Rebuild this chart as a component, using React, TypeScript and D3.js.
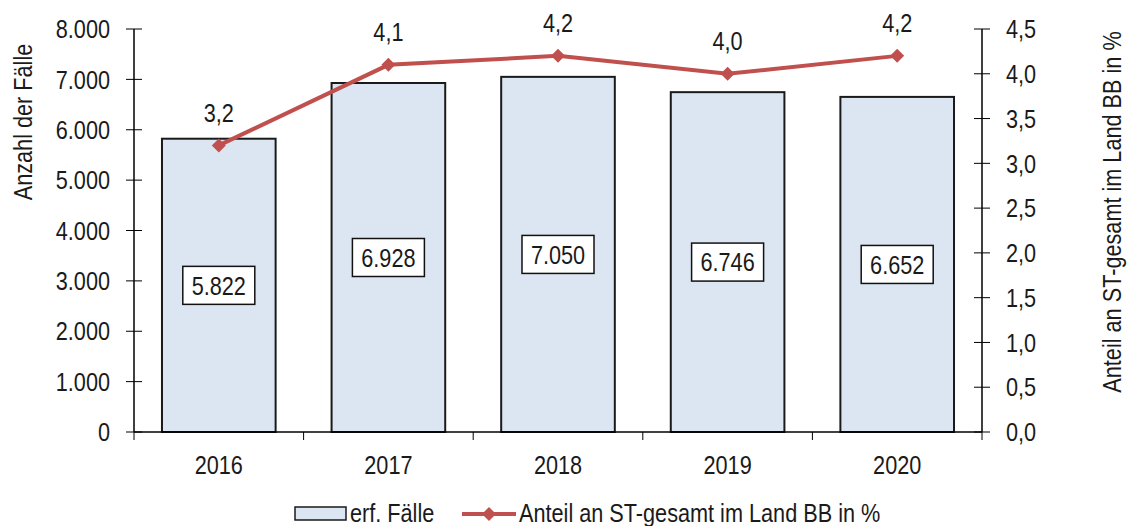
import React from "react";
import * as d3 from "d3";

const years = ["2016", "2017", "2018", "2019", "2020"];
const cases = [5822, 6928, 7050, 6746, 6652];
const shares = [3.2, 4.1, 4.2, 4.0, 4.2];
const leftTicks = [0, 1000, 2000, 3000, 4000, 5000, 6000, 7000, 8000];
const rightTicks = [0, 0.5, 1, 1.5, 2, 2.5, 3, 3.5, 4, 4.5];

const W = 1130;
const H = 526;
const FONT = "'Liberation Sans', Arial, sans-serif";
const FS = 25.5;
const SX = 0.85;

type TP = {
  x: number;
  y: number;
  anchor?: "start" | "middle" | "end";
  rotate?: number;
  size?: number;
  sx?: number;
  dy?: string;
  children: React.ReactNode;
};

function T({ x, y, anchor = "start", rotate = 0, size = FS, sx = SX, dy, children }: TP) {
  return (
    <text
      transform={`translate(${x},${y}) rotate(${rotate}) scale(${sx},1)`}
      textAnchor={anchor}
      fontSize={size}
      dy={dy}
      fill="#1a1a1a"
    >
      {children}
    </text>
  );
}

export default function App() {
  const x = d3.scaleBand<string>().domain(years).range([134, 982]).paddingInner(0.33).paddingOuter(0.165);
  const yL = d3.scaleLinear().domain([0, 8000]).range([432, 29]);
  const yR = d3.scaleLinear().domain([0, 4.5]).range([432, 29]);
  const fmtInt = (v: number) => d3.format(",")(v).replace(/,/g, ".");
  const fmtDec = (v: number) => v.toFixed(1).replace(".", ",");
  const cx = (y: string) => (x(y) as number) + x.bandwidth() / 2;
  const line = d3.line<number>().x((_, i) => cx(years[i])).y((d) => yR(d));
  const step = (982 - 134) / years.length;
  const diamond = (px: number, py: number, r: number) =>
    `M${px},${py - r}L${px + r},${py}L${px},${py + r}L${px - r},${py}Z`;
  const red = "#c0504d";

  return (
    <svg width={W} height={H} style={{ position: "absolute", left: 0, top: 0, background: "#fff" }} fontFamily={FONT}>
      {/* bars */}
      {years.map((y, i) => (
        <rect key={y} x={x(y)} y={yL(cases[i])} width={x.bandwidth()} height={yL(0) - yL(cases[i])}
          fill="#dce6f2" stroke="#1a1a1a" strokeWidth={2} />
      ))}
      {/* left axis */}
      <line x1={134} x2={134} y1={29} y2={432} stroke="#000" strokeWidth={1.5} />
      {leftTicks.map((t) => (
        <g key={t}>
          <line x1={126} x2={142} y1={yL(t)} y2={yL(t)} stroke="#000" strokeWidth={1} />
          <T x={110} y={yL(t)} dy="0.36em" anchor="end">{fmtInt(t)}</T>
        </g>
      ))}
      {/* right axis */}
      <line x1={982} x2={982} y1={29} y2={432} stroke="#000" strokeWidth={1.5} />
      {rightTicks.map((t) => (
        <g key={t}>
          <line x1={974} x2={990} y1={yR(t)} y2={yR(t)} stroke="#000" strokeWidth={1} />
          <T x={1006} y={yR(t)} dy="0.36em">{fmtDec(t)}</T>
        </g>
      ))}
      {/* x axis */}
      <line x1={134} x2={982} y1={432} y2={432} stroke="#000" strokeWidth={1.5} />
      {d3.range(years.length + 1).map((i) => (
        <line key={i} x1={134 + i * step} x2={134 + i * step} y1={432} y2={440} stroke="#000" strokeWidth={1} />
      ))}
      {years.map((y) => (
        <T key={y} x={cx(y)} y={474} anchor="middle">{y}</T>
      ))}
      {/* value boxes */}
      {years.map((y, i) => {
        const my = (yL(cases[i]) + yL(0)) / 2;
        return (
          <g key={y}>
            <rect x={cx(y) - 36} y={my - 19} width={72} height={38} fill="#fff" stroke="#111" strokeWidth={1.5} />
            <T x={cx(y)} y={my} dy="0.36em" anchor="middle">{fmtInt(cases[i])}</T>
          </g>
        );
      })}
      {/* line */}
      <path d={line(shares) as string} fill="none" stroke={red} strokeWidth={4} />
      {shares.map((s, i) => (
        <g key={i}>
          <path d={diamond(cx(years[i]), yR(s), 7)} fill={red} />
          <T x={cx(years[i])} y={yR(s) - 33} dy="0.36em" anchor="middle">{fmtDec(s)}</T>
        </g>
      ))}
      {/* axis titles */}
      <T x={32} y={122} rotate={-90} anchor="middle">Anzahl der Fälle</T>
      <T x={1121} y={212} rotate={-90} anchor="middle">Anteil an ST-gesamt im Land BB in %</T>
      {/* legend */}
      <rect x={295} y={507} width={51} height={13} fill="#dce6f2" stroke="#1a1a1a" strokeWidth={1.5} />
      <T x={350} y={522}>erf. Fälle</T>
      <line x1={462} x2={516} y1={514} y2={514} stroke={red} strokeWidth={4} />
      <path d={diamond(489, 514, 7)} fill={red} />
      <T x={519} y={522}>Anteil an ST-gesamt im Land BB in %</T>
    </svg>
  );
}
